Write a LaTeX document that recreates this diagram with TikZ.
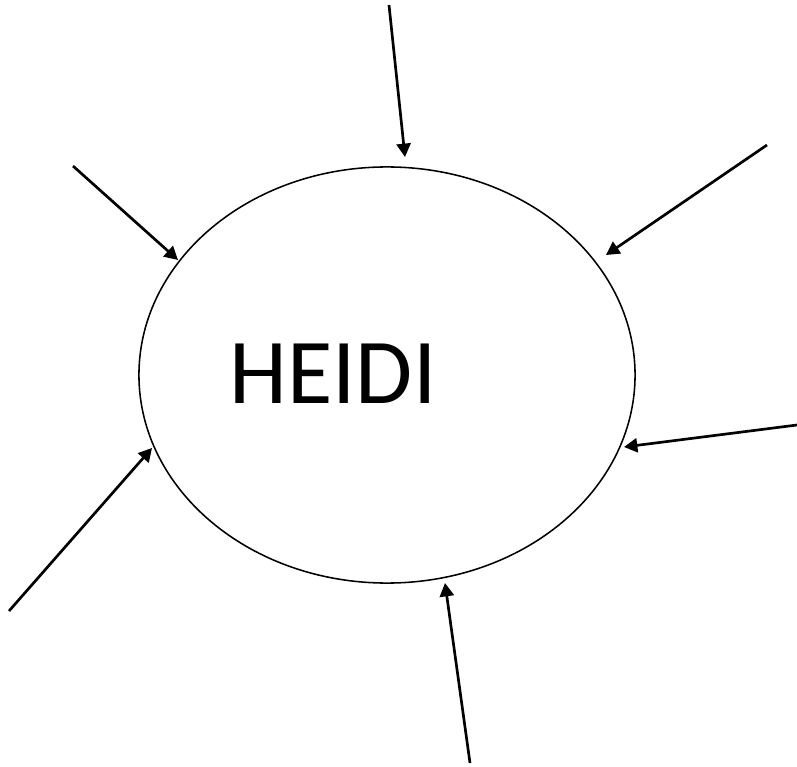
\documentclass[tikz,border=0pt]{standalone}
\usepackage{fontspec}
\setmainfont{Carlito}
\usetikzlibrary{arrows.meta,shapes.geometric}

\begin{document}
\begin{tikzpicture}[
  x=0.025cm, y=-0.025cm,
  >={Triangle[length=9.5pt,width=10pt]},
  feed/.style={->,line width=1.9pt},
  circbox/.style={draw,ellipse,line width=1.1pt,minimum width=12.4cm,minimum height=10.4cm,inner sep=0pt}
]
  \useasboundingbox (0,0) rectangle (797,767);
  \node[circbox] (heidi) at (387,375) {};
  \node[font=\fontsize{66}{72}\selectfont,inner sep=0pt] (name) at (333,374) {HEIDI};
  % incoming arrows: source / tip
  \foreach \i/\sx/\sy/\tx/\ty in {1/389/5/405/157, 2/73/166/178/260, 3/767/145/606/255,
      4/797/425/624/447, 5/9/611/152/448, 6/470/763/445/583} {
    \coordinate (s\i) at (\sx,\sy);
    \coordinate (t\i) at (\tx,\ty);
    \draw[feed] (s\i) -- (t\i);
  }
\end{tikzpicture}
\end{document}
